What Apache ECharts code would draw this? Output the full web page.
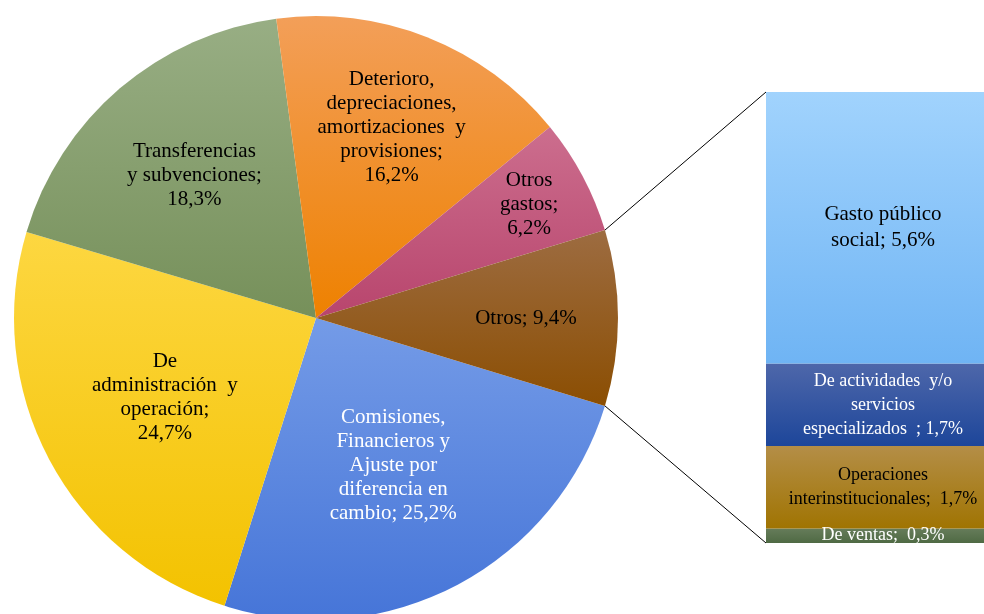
<!DOCTYPE html>
<html><head><meta charset="utf-8">
<script src="https://cdn.jsdelivr.net/npm/echarts@6/dist/echarts.min.js"></script>
<style>html,body{margin:0;padding:0;background:#fff}#c{width:984px;height:614px}</style>
</head><body><div id="c"></div>
<script>
// ---- data ----
const pieNames = ['Comisiones,\nFinancieros y\nAjuste por\ndiferencia en\ncambio;', 'De\nadministración  y\noperación;', 'Transferencias\ny subvenciones;', 'Deterioro,\ndepreciaciones,\namortizaciones  y\nprovisiones;', 'Otros\ngastos;', 'Otros;'];
const pieValues = [25.2, 24.7, 18.3, 16.2, 6.2, 9.4];
const pieValueSep = [' ', '\n', '\n', '\n', '\n', ' '];
const barNames = ['De ventas; ', 'Operaciones\ninterinstitucionales; ', 'De actividades  y/o\nservicios\nespecializados  ;', 'Gasto público\nsocial;'];
const barValues = [0.3, 1.7, 1.7, 5.6];

// ---- styles ----
const pieTop = ['#749be7', '#fdd741', '#98ae84', '#f39f59', '#cc6e8e', '#9d6c41'];
const pieBot = ['#4675d8', '#f3c200', '#76905a', '#ee8100', '#b8456d', '#8b4e02'];
const pieText = ['#ffffff', '#000000', '#000000', '#000000', '#000000', '#000000'];
const pieLabelR = [0.55, 0.566, 0.62, 0.68, 0.80, 0.695];
const barTop = ['#667c5a', '#b48e47', '#4e67aa', '#a1d3fd'];
const barBot = ['#4f6a44', '#a07402', '#1d469a', '#6fb4f4'];
const barText = ['#ffffff', '#000000', '#ffffff', '#000000'];
const barFont = [18, 18, 18, 21];
const barLine = [22, 24, 24, 26];

const CX = 316, CY = 318, R = 302;
const GL = 766, GT = 92, GW = 234, GH = 451;
const FONT = '"Liberation Serif", "Times New Roman", serif';

const fmt = v => v.toFixed(1).replace('.', ',') + '%';
const grad = (a, b) => ({type: 'linear', x: 0, y: 0, x2: 0, y2: 1, colorStops: [{offset: 0, color: a}, {offset: 1, color: b}]});

const pieSum = pieValues.reduce((a, b) => a + b, 0);
const startAngle = -pieValues[pieValues.length - 1] / pieSum * 180;
const midAngles = [];
{ let cum = 0; pieValues.forEach(v => { midAngles.push(startAngle - (cum + v / 2) / pieSum * 360); cum += v; }); }
const barSum = barValues.reduce((a, b) => a + b, 0);

const chart = echarts.init(document.getElementById('c'), null, {renderer: 'canvas'});

const series = [{
  type: 'pie', center: [CX, CY], radius: R, startAngle: startAngle, clockwise: true,
  silent: true, animation: false,
  data: pieValues.map((v, i) => ({
    name: pieNames[i], value: v,
    itemStyle: {color: grad(pieTop[i], pieBot[i])},
    label: {color: pieText[i]}
  })),
  itemStyle: {borderWidth: 0},
  label: {
    show: true, position: 'inside', fontFamily: FONT, fontSize: 21, lineHeight: 24,
    align: 'center', verticalAlign: 'middle',
    formatter: p => p.name + pieValueSep[p.dataIndex] + fmt(p.value)
  },
  labelLine: {show: false},
  labelLayout: p => {
    const i = p.dataIndex, a = midAngles[i] * Math.PI / 180, r = pieLabelR[i] * R;
    return {x: CX + r * Math.cos(a), y: CY - r * Math.sin(a), align: 'center', verticalAlign: 'middle'};
  }
}];
barValues.forEach((v, i) => {
  series.push({
    type: 'bar', stack: 'o', xAxisIndex: 0, yAxisIndex: 0, barWidth: '100%',
    silent: true, animation: false,
    data: [{value: v, name: barNames[i]}],
    itemStyle: {color: grad(barTop[i], barBot[i])},
    label: {
      show: true, position: 'inside', fontFamily: FONT, fontSize: barFont[i], lineHeight: barLine[i],
      color: barText[i], formatter: () => barNames[i] + ' ' + fmt(v)
    }
  });
});

chart.setOption({
  backgroundColor: '#ffffff',
  animation: false,
  grid: {left: GL, top: GT, width: GW, height: GH, containLabel: false, outerBoundsMode: 'none'},
  xAxis: {type: 'category', data: [''], show: false, boundaryGap: true},
  yAxis: {type: 'value', min: 0, max: barSum, show: false},
  series: series
});

// connector lines from the "Otros" slice edges to the bar corners
const aUp = (startAngle + pieValues[pieValues.length - 1] / pieSum * 360) * Math.PI / 180;
const aLo = startAngle * Math.PI / 180;
const yTop = chart.convertToPixel({yAxisIndex: 0}, barSum);
const yBot = chart.convertToPixel({yAxisIndex: 0}, 0);
chart.setOption({
  graphic: [
    {type: 'line', silent: true, shape: {x1: CX + R * Math.cos(aUp), y1: CY - R * Math.sin(aUp), x2: GL, y2: yTop}, style: {stroke: '#000', lineWidth: 1}},
    {type: 'line', silent: true, shape: {x1: CX + R * Math.cos(aLo), y1: CY - R * Math.sin(aLo), x2: GL, y2: yBot}, style: {stroke: '#000', lineWidth: 1}}
  ]
});
</script></body></html>
